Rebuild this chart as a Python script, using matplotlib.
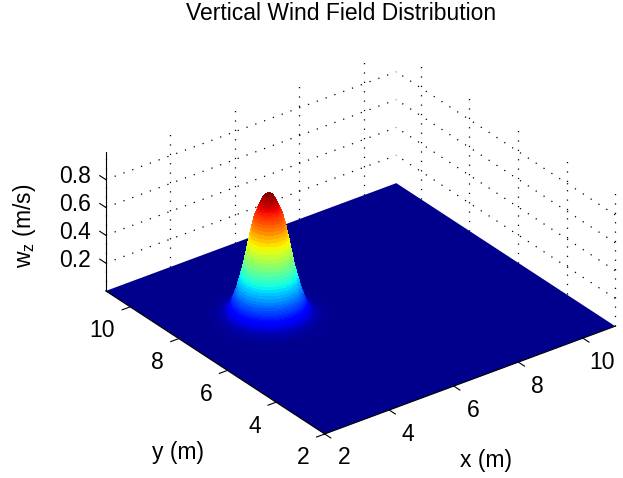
import numpy as np
import matplotlib
matplotlib.use('Agg')
import matplotlib.pyplot as plt
from mpl_toolkits.mplot3d import proj3d

plt.rcParams['font.family'] = ['Liberation Sans', 'DejaVu Sans']
plt.rcParams['mathtext.fontset'] = 'custom'
plt.rcParams['mathtext.rm'] = 'Liberation Sans'

# axis ticks
x_ticks = [2, 4, 6, 8, 10]
y_ticks = [2, 4, 6, 8, 10]
z_ticks = [0.2, 0.4, 0.6, 0.8]
x_lim = [2, 11]
y_lim = [2, 11]
z_lim = [0, 1]

gust_x = 4.45
gust_y = 7.55
ring_r = [0, .02, .04, .06, .08, .10, .12, .14, .16, .18, .20, .22, .24, .26, .28, .30,
          .32, .34, .36, .38, .40, .42, .44, .46, .48, .50, .52, .54, .56, .58, .60, .62,
          .64, .66, .68, .70, .72, .74, .76, .78, .80, .82, .84, .86, .88, .90, .92, .94,
          .96, .98, 1.00, 1.02, 1.04, 1.06, 1.08, 1.10, 1.14, 1.18, 1.22, 1.26, 1.30,
          1.36, 1.42, 1.50, 1.60]
ring_w = [.888, .886, .883, .879, .874, .868, .861, .853, .844, .834, .823, .810, .797, .783, .770, .757,
          .744, .733, .712, .692, .670, .645, .620, .595, .570, .545, .518, .490, .462, .435, .407, .380,
          .357, .335, .315, .295, .275, .255, .235, .215, .197, .180, .165, .150, .136, .122, .110, .098,
          .087, .076, .066, .056, .048, .040, .034, .028, .022, .017, .012, .009, .006,
          .004, .002, .001, 0]


def jet_colors(w):
    return plt.cm.jet(0.014 + 0.986 * np.asarray(w) / max(ring_w))


fig = plt.figure(figsize=(6.23, 4.78), dpi=100)
# a 1000 px square axes so nothing gets clipped at its edge
ax = fig.add_axes([(347 - 500) / 623, (225.5 - 500) / 478, 1000 / 623, 1000 / 478],
                  projection='3d', proj_type='ortho')
ax.view_init(elev=29.5, azim=-127)
ax.set_box_aspect((364, 364, 160), zoom=1.094 * 0.478)
ax.set_xlim(x_lim, view_margin=0)
ax.set_ylim(y_lim, view_margin=0)
ax.set_zlim(z_lim, view_margin=0)
ax.set_axis_off()
ax.computed_zorder = False


def label(s, x, y, z, dx, dy, ha):
    # tick label placed a few pixels away from the projected tick
    px, py, _ = proj3d.proj_transform(x, y, z, ax.get_proj())
    ax.annotate(s, (px, py), xytext=(dx, dy), textcoords='offset pixels',
                fontsize=16.5, ha=ha, va='center', annotation_clip=False)


# dotted grid on the two back walls
dots = dict(color='k', lw=0.9, ls=(0, (1, 6.5)), zorder=1)
for x in x_ticks:
    ax.plot([x, x], [y_lim[1], y_lim[1]], z_lim, **dots)
for y in y_ticks:
    ax.plot([x_lim[1], x_lim[1]], [y, y], z_lim, **dots)
for z in z_ticks:
    ax.plot(x_lim, [y_lim[1], y_lim[1]], [z, z], **dots)
    ax.plot([x_lim[1], x_lim[1]], y_lim, [z, z], **dots)

# floor of the wind field
fx, fy = np.meshgrid(x_lim, y_lim)
ax.plot_surface(fx, fy, np.zeros_like(fx, dtype=float), color=jet_colors(0), shade=False,
                linewidth=0, zorder=2)

# the gust as a surface of revolution
theta = np.linspace(0, 2 * np.pi, 91)
R, T = np.meshgrid(ring_r, theta, indexing='ij')
gx = gust_x + R * np.cos(T)
gy = gust_y + R * np.sin(T)
gz = np.outer(ring_w, np.ones_like(theta))
ax.plot_surface(gx, gy, gz, facecolors=jet_colors(gz), rstride=1, cstride=1, shade=False,
                linewidth=0.4, antialiased=False, zorder=3)

# axis lines, ticks and tick labels
line = dict(color='k', lw=0.8, zorder=4)
ax.plot([2, 2], [11, 11], z_lim, **line)
ax.plot(x_lim, [2, 2], [0, 0], **line)
ax.plot([2, 2], y_lim, [0, 0], **line)
for x in x_ticks:
    ax.plot([x, x], [2, 1.75], [0, 0], **line)
    label(str(x), x, 2, 0, 19, -24, 'center')
for y in y_ticks:
    ax.plot([2, 1.75], [y, y], [0, 0], **line)
    label(str(y), 2, y, 0, -15, -24, 'right')
for z in z_ticks:
    ax.plot([2, 2], [11, 11.25], [z, z], **line)
    label('%.1f' % z, 2, 11, z, -15, 3, 'right')

fig.text(341 / 623, 1 - 14 / 478, 'Vertical Wind Field Distribution', fontsize=16.5, ha='center', va='center')
fig.text(486 / 623, 1 - 461 / 478, 'x (m)', fontsize=16.5, ha='center', va='center')
fig.text(178 / 623, 1 - 453 / 478, 'y (m)', fontsize=16.5, ha='center', va='center')
fig.text(24 / 623, 1 - 226 / 478, r'w$_{\mathrm{z}}$ (m/s)', fontsize=16.5, rotation=90, ha='center', va='center')

fig.savefig('out.png', dpi=100)
